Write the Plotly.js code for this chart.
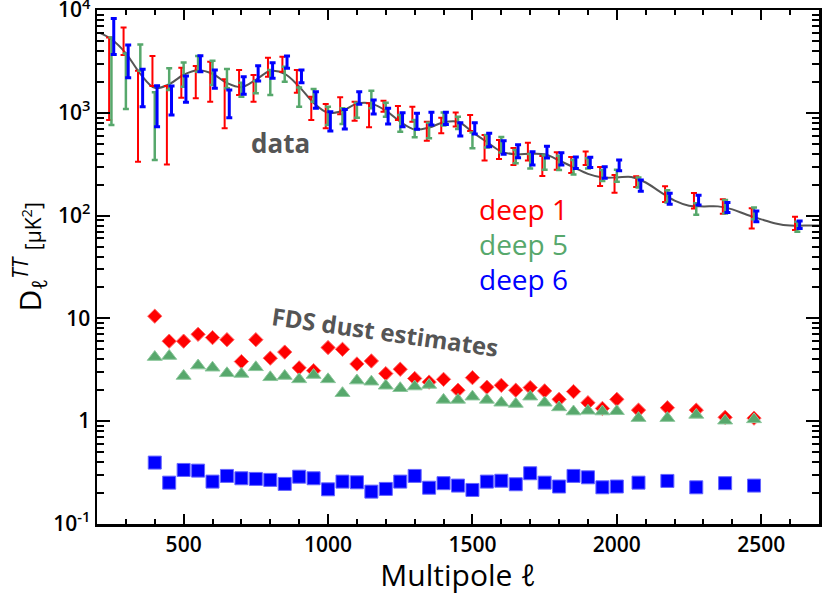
<!DOCTYPE html>
<html>
<head>
<meta charset="utf-8">
<script src="https://cdn.plot.ly/plotly-3.0.1.min.js"></script>
<style>
  html, body { margin: 0; padding: 0; background: #fff; }
  #chart { width: 830px; height: 595px; }
</style>
</head>
<body>
<div id="chart"></div>
<script>
/* Planck-style TT spectrum of the deep fields with FDS dust estimates.
   Values. */
(function () {
  "use strict";

  // theory curve (multipole, D_ell in uK^2)
  var curveEll = [210, 250, 300, 350, 400, 450, 500, 550, 600, 650, 700, 750, 800, 850, 900,
    950, 1000, 1050, 1100, 1150, 1200, 1250, 1300, 1350, 1400, 1450, 1500, 1550, 1600, 1650,
    1700, 1750, 1800, 1850, 1900, 1950, 2000, 2050, 2100, 2150, 2200, 2250, 2300, 2350, 2400,
    2450, 2500, 2550, 2600, 2650, 2700];
  var curveDl = [6000, 5200, 3800, 2400, 1750, 1900, 2350, 2600, 2400, 1950, 1780, 2100, 2550,
    2400, 1800, 1250, 1000, 1050, 1230, 1230, 1050, 820, 690, 720, 810, 820, 650, 520, 420, 395,
    400, 395, 345, 295, 255, 235, 235, 238, 210, 170, 140, 125, 123, 123, 115, 102, 92, 84, 80,
    80, 80];

  // band-power bins of the error bars
  var binEll = [250, 300, 350, 400, 450, 500, 550, 600, 650, 700, 750, 800, 850, 900, 950, 1000,
    1050, 1100, 1150, 1200, 1250, 1300, 1350, 1400, 1450, 1500, 1550, 1600, 1650, 1700, 1750,
    1800, 1850, 1900, 1950, 2000, 2075, 2175, 2275, 2375, 2475, 2625];

  var deep1Lo = [851, 3650, 334, 1823, 315, 1402, 1384, 1282, 707, 1490, 1282, 2245, 2511, 1569,
    851, 707, 967, 838, 723, 1025, 851, 819, 535, 632, 736, 665, 344, 355, 311, 344, 243, 280,
    260, 311, 194, 167, 190, 136, 117, 104, 75, 72.4];
  var deep1Hi = [5424, 6790, 2568, 3568, 1823, 2746, 2853, 3141, 2118, 2608, 2332, 3436, 3513,
    2608, 1434, 1218, 1415, 1282, 1237, 1311, 1165, 1147, 819, 896, 1007, 952, 608, 544, 455,
    512, 380, 414, 372, 420, 297, 248, 241, 193, 166, 144, 118, 97.6];

  var deep5Lo = [761, 1089, 2568, 347, 1667, 1794, 2511, 1864, 1731, 1434, 1548, 1490, 2007,
    1147, 1282, 761, 778, 896, 1106, 917, 655, 578, 565, 752, 696, 452, 460, 411, 323, 288, 280,
    278, 251, 288, 217, 214, 188, 134, 102, 105, 92, 69.7];
  var deep5Hi = [5424, 3792, 4638, 1583, 2710, 3099, 3568, 3212, 2668, 1963, 2039, 2608, 2808,
    1770, 1704, 1147, 1106, 1254, 1641, 1254, 952, 851, 801, 1007, 917, 643, 608, 582, 435, 397,
    384, 382, 347, 361, 278, 280, 235, 177, 132, 142, 120, 87];

  var deep6Lo = [3708, 2195, 1147, 732, 952, 1265, 2511, 1731, 896, 1514, 2039, 2166, 2710,
    1963, 1106, 665, 696, 1210, 973, 778, 732, 691, 761, 770, 595, 622, 468, 396, 365, 311, 363,
    311, 288, 294, 231, 273, 173, 129, 127, 107, 87, 75];
  var deep6Hi = [8305, 4566, 2650, 1835, 1823, 2280, 3592, 2608, 1667, 2245, 2872, 3072, 3568,
    2608, 1604, 1025, 1081, 1604, 1332, 1106, 1002, 989, 1011, 1011, 801, 801, 632, 534, 489,
    418, 472, 409, 372, 369, 299, 347, 222, 165, 158, 134, 111, 88.6];

  // FDS dust estimates
  var dustEll = [400, 450, 500, 550, 600, 650, 700, 750, 800, 850, 900, 950, 1000, 1050, 1100,
    1150, 1200, 1250, 1300, 1350, 1400, 1450, 1500, 1550, 1600, 1650, 1700, 1750, 1800, 1850,
    1900, 1950, 2000, 2075, 2175, 2275, 2375, 2475];
  var dust1 = [10.5, 6.0, 6.0, 7.0, 6.5, 6.2, 3.8, 6.2, 4.1, 4.7, 3.3, 3.1, 5.2, 5.0, 3.6, 3.85,
    2.9, 3.2, 2.6, 2.4, 2.55, 2.0, 2.65, 2.14, 2.23, 2.0, 2.12, 1.97, 1.63, 1.94, 1.51, 1.33,
    1.63, 1.28, 1.35, 1.28, 1.09, 1.07];
  var dust5 = [4.2, 4.3, 2.75, 3.47, 3.31, 2.92, 2.88, 3.34, 2.67, 2.75, 2.55, 2.81, 2.55, 1.87,
    2.48, 2.42, 2.21, 2.09, 2.17, 2.25, 1.61, 1.61, 1.73, 1.61, 1.51, 1.47, 1.73, 1.51, 1.36,
    1.24, 1.26, 1.24, 1.25, 1.07, 1.07, 1.15, 1.01, 1.04];
  var dust6 = [0.395, 0.252, 0.335, 0.33, 0.258, 0.293, 0.278, 0.274, 0.268, 0.245, 0.288, 0.278,
    0.217, 0.258, 0.254, 0.206, 0.219, 0.258, 0.293, 0.225, 0.249, 0.236, 0.214, 0.258, 0.263,
    0.243, 0.311, 0.252, 0.231, 0.293, 0.284, 0.227, 0.231, 0.252, 0.262, 0.227, 0.249, 0.236];

  var yTickVals = [0.1, 1, 10, 100, 1000, 10000];
  var yTickText = ["10<sup>-1</sup>", "1", "10", "10<sup>2</sup>", "10<sup>3</sup>", "10<sup>4</sup>"];

  var RED = "#ff0000", GREEN = "#57a86c", BLUE = "#0000ff", GREY = "#555555";
  var FONT = "Open Sans, Noto Sans, sans-serif";

  // minor ticks 2..9 in every decade of the log axis
  var yMinor = [];
  for (var d = -1; d < 4; d++) {
    for (var m = 2; m <= 9; m++) yMinor.push(m * Math.pow(10, d));
  }

  // error bars drawn from a bin's low and high ends, x offset per field
  function bandTrace(name, lo, hi, dx, color, thick) {
    var x = [], y = [], up = [], down = [];
    binEll.forEach(function (ell, i) {
      var c = Math.sqrt(lo[i] * hi[i]);
      x.push(ell + dx);
      y.push(c);
      up.push(hi[i] - c);
      down.push(c - lo[i]);
    });
    return {
      type: "scatter", mode: "markers", name: name, x: x, y: y,
      marker: { size: 2, opacity: 0, color: color },
      error_y: {
        type: "data", symmetric: false, array: up, arrayminus: down,
        color: color, thickness: thick, width: 3
      },
      hoverinfo: "skip"
    };
  }

  function dustTrace(name, vals, symbol, size, color, edge) {
    return {
      type: "scatter", mode: "markers", name: name, x: dustEll, y: vals,
      marker: { symbol: symbol, size: size, color: color, line: { color: edge, width: 1 } }
    };
  }

  var traces = [
    {
      type: "scatter", mode: "lines", name: "theory", x: curveEll, y: curveDl,
      line: { color: GREY, width: 2, shape: "spline", smoothing: 1 }
    },
    bandTrace("deep 1", deep1Lo, deep1Hi, -8, RED, 2),
    bandTrace("deep 5", deep5Lo, deep5Hi, 0, GREEN, 2.5),
    bandTrace("deep 6", deep6Lo, deep6Hi, 8, BLUE, 3),
    dustTrace("deep 1 dust", dust1, "diamond", 11, RED, "#ff6666"),
    dustTrace("deep 5 dust", dust5, "triangle-up", 13, GREEN, "#8cc79c"),
    dustTrace("deep 6 dust", dust6, "square", 13, BLUE, "#6666ff")
  ];

  var layout = {
    width: 830, height: 595,
    margin: { l: 97, r: 11, t: 10, b: 71 },
    paper_bgcolor: "#fff", plot_bgcolor: "#fff",
    showlegend: false,
    font: { family: FONT, color: "#000" },
    xaxis: {
      range: [200, 2700],
      tickvals: [500, 1000, 1500, 2000, 2500],
      ticks: "inside", ticklen: 10, tickwidth: 2, tickcolor: "#000",
      minor: { dtick: 100, tick0: 0, ticks: "inside", ticklen: 5, tickwidth: 2, tickcolor: "#000" },
      showline: true, linewidth: 2.5, linecolor: "#000", mirror: "allticks",
      showgrid: false, zeroline: false,
      tickfont: { family: FONT, size: 21, weight: 600 },
      title: { text: "Multipole <i>ℓ</i>", font: { family: FONT, size: 30 }, standoff: 10 }
    },
    yaxis: {
      type: "log", range: [-1.001, 4.001],
      tickvals: yTickVals, ticktext: yTickText,
      ticklabeloverflow: "allow",
      ticks: "inside", ticklen: 13, tickwidth: 2, tickcolor: "#000",
      minor: { tickmode: "array", tickvals: yMinor, ticks: "inside", ticklen: 7, tickwidth: 2, tickcolor: "#000" },
      showline: true, linewidth: 2.5, linecolor: "#000", mirror: "allticks",
      showgrid: false, zeroline: false,
      tickfont: { family: FONT, size: 21, weight: 600 }
    },
    annotations: [
      {
        xref: "paper", yref: "paper", x: -0.093, y: 0.52, xanchor: "center", yanchor: "middle",
        textangle: -90, showarrow: false,
        text: "D<sub><i>ℓ</i></sub><sup><i>TT</i></sup> <span style=\"font-size:21px\">[μK<sup>2</sup>]</span>",
        font: { family: FONT, size: 30, color: "#000" }
      },
      {
        xref: "paper", yref: "paper", x: (280 - 97) / 722, y: (524 - 143) / 514,
        xanchor: "center", yanchor: "middle", showarrow: false, text: "data",
        font: { family: FONT, size: 26, weight: 700, color: GREY }
      },
      {
        xref: "paper", yref: "paper", x: (523 - 97) / 722, y: (524 - 209) / 514,
        xanchor: "center", yanchor: "middle", showarrow: false, text: "deep 1",
        font: { family: FONT, size: 28, color: RED }
      },
      {
        xref: "paper", yref: "paper", x: (523 - 97) / 722, y: (524 - 244) / 514,
        xanchor: "center", yanchor: "middle", showarrow: false, text: "deep 5",
        font: { family: FONT, size: 28, color: GREEN }
      },
      {
        xref: "paper", yref: "paper", x: (523 - 97) / 722, y: (524 - 279) / 514,
        xanchor: "center", yanchor: "middle", showarrow: false, text: "deep 6",
        font: { family: FONT, size: 28, color: BLUE }
      },
      {
        xref: "paper", yref: "paper", x: (385 - 97) / 722, y: (524 - 331) / 514,
        xanchor: "center", yanchor: "middle", showarrow: false, textangle: 8,
        text: "FDS dust estimates",
        font: { family: FONT, size: 24, weight: 700, color: GREY }
      }
    ]
  };

  Plotly.newPlot("chart", traces, layout, { displayModeBar: false, staticPlot: true });
})();
</script>
</body>
</html>
